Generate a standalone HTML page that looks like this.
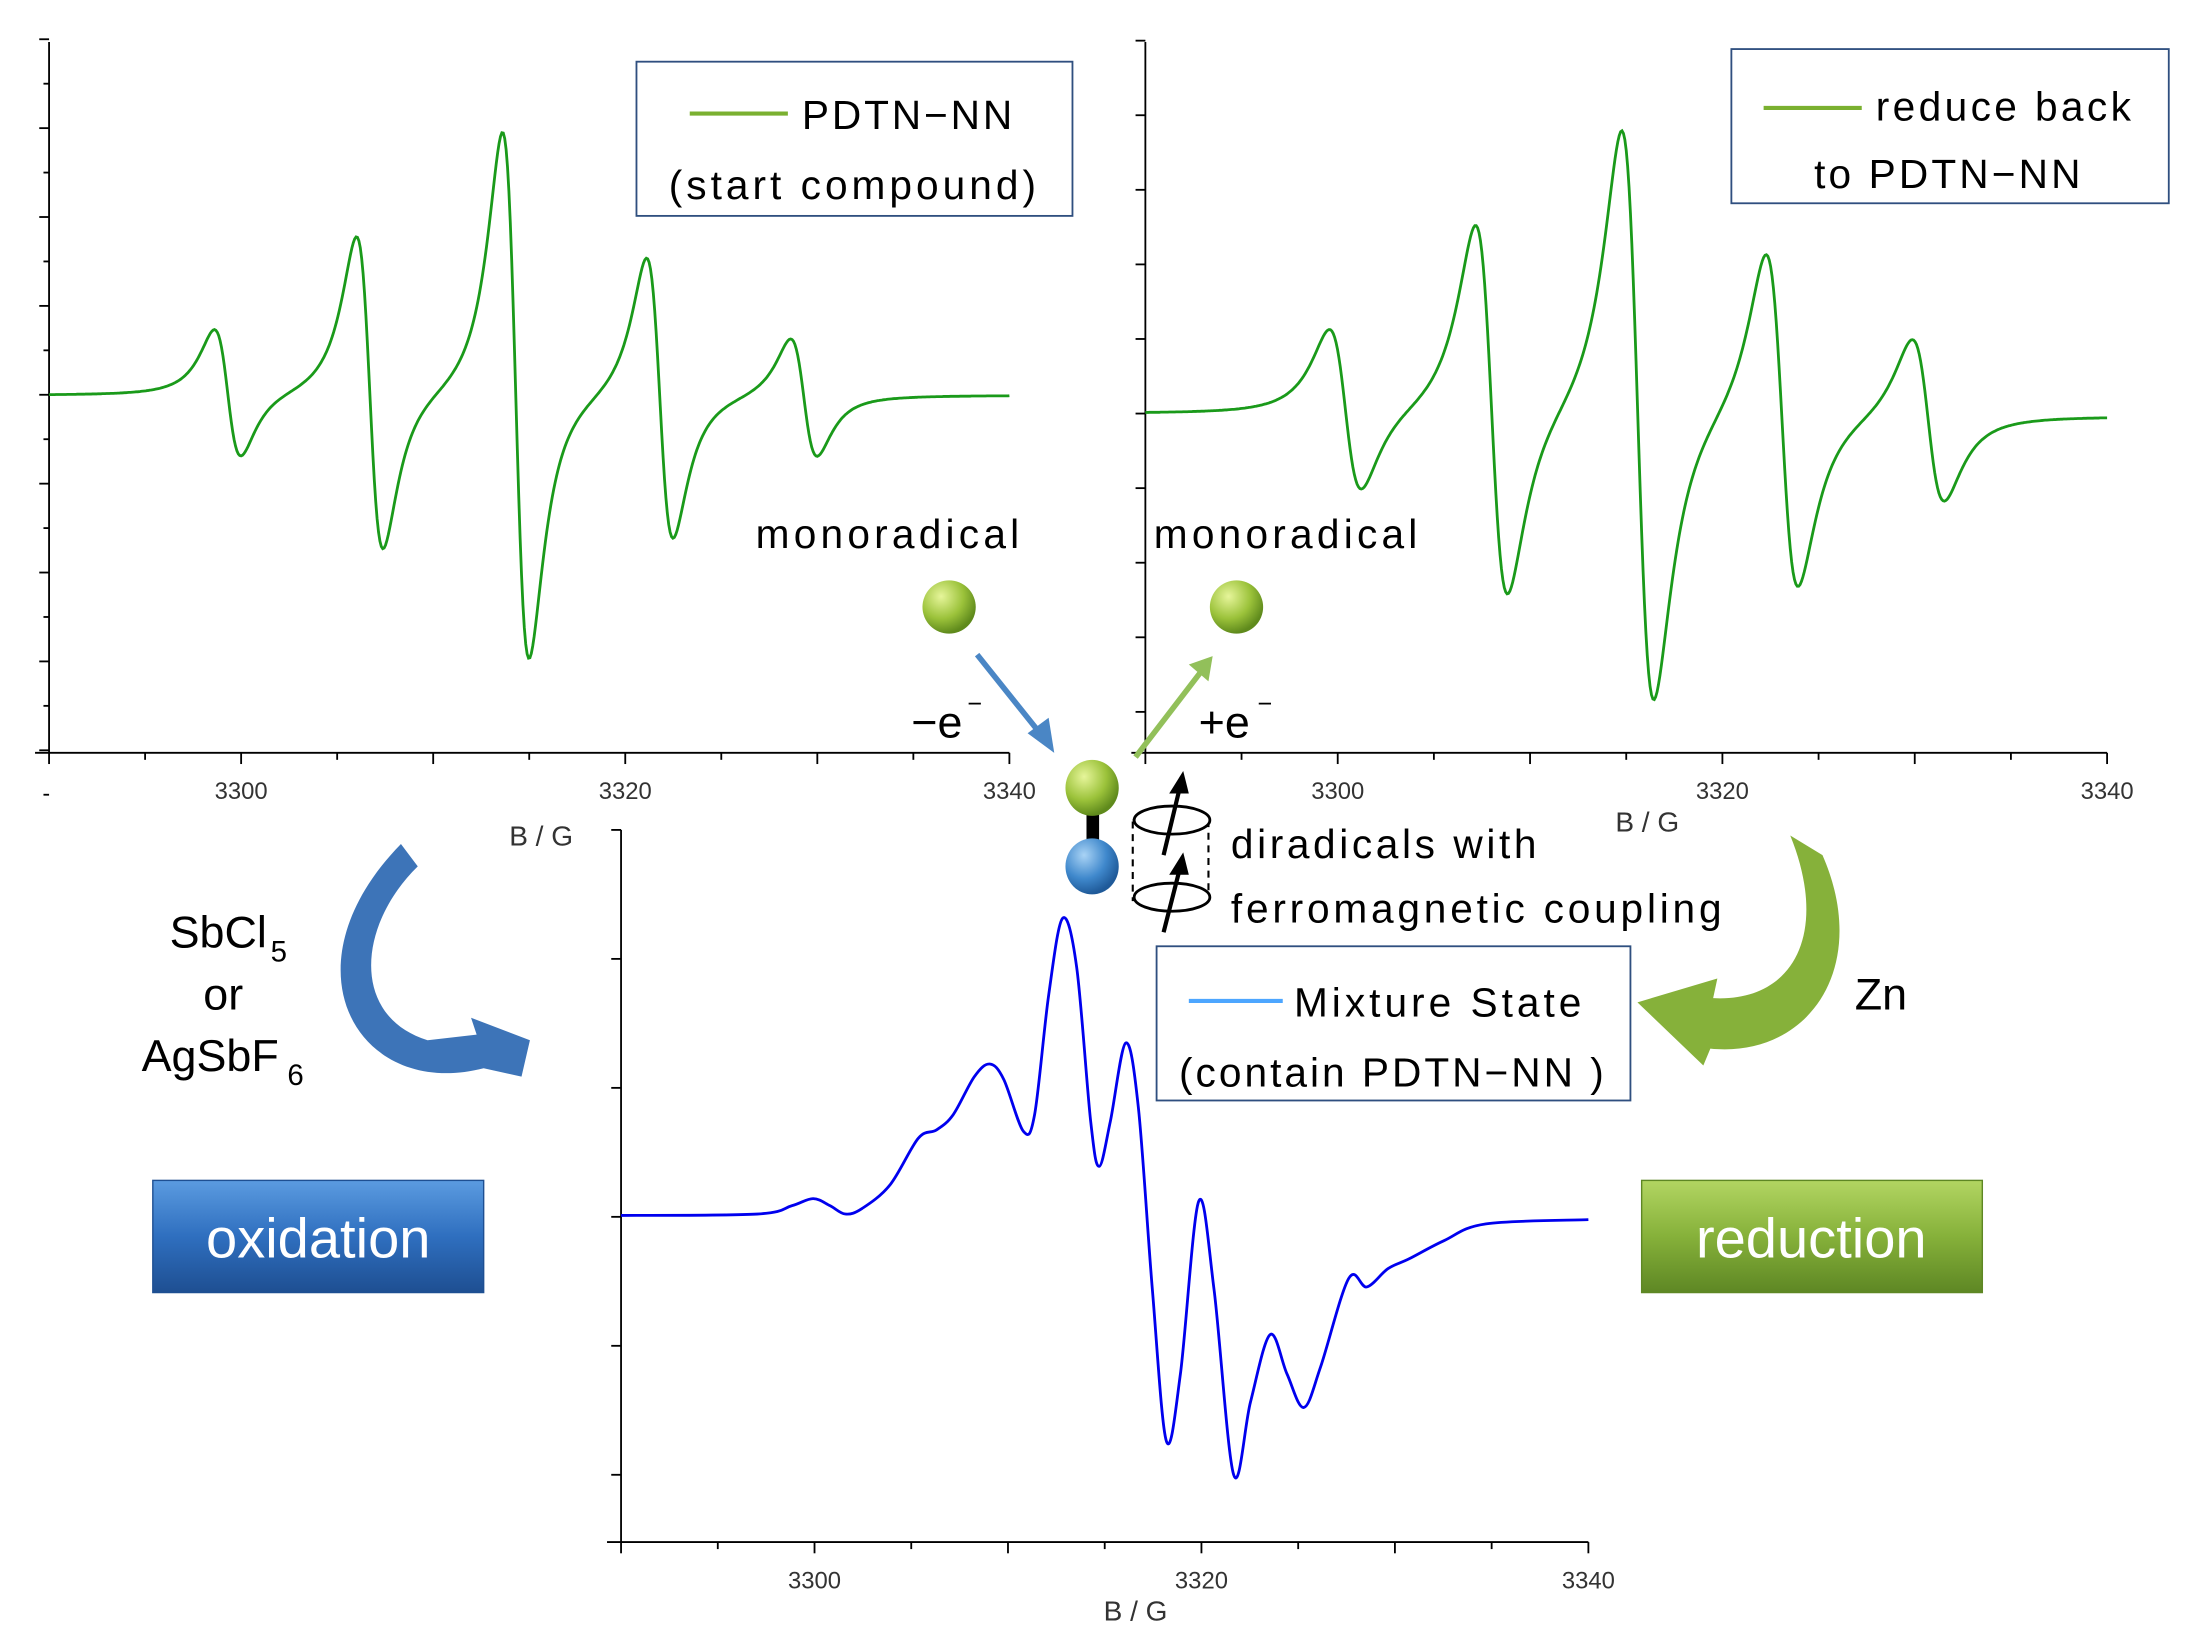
<!DOCTYPE html>
<html><head><meta charset="utf-8"><style>
html,body{margin:0;padding:0;background:#fff;width:2187px;height:1644px;overflow:hidden}
svg{display:block}
text{font-family:"Liberation Sans",sans-serif}
</style></head><body>
<svg id="s" width="2187" height="1644" viewBox="0 0 1560 1172.7" preserveAspectRatio="none" xmlns="http://www.w3.org/2000/svg">
<defs>
<radialGradient id="gb" cx="0.35" cy="0.3" r="0.7"><stop offset="0" stop-color="#e6f59a"/><stop offset="0.6" stop-color="#9bc23a"/><stop offset="1" stop-color="#5f8a1c"/></radialGradient>
<radialGradient id="bb" cx="0.35" cy="0.3" r="0.7"><stop offset="0" stop-color="#a9d3f5"/><stop offset="0.6" stop-color="#3f88cc"/><stop offset="1" stop-color="#1f5a99"/></radialGradient>
<linearGradient id="ox" x1="0" y1="0" x2="0" y2="1"><stop offset="0" stop-color="#5b9be0"/><stop offset="0.5" stop-color="#2f6fbf"/><stop offset="1" stop-color="#1e4f92"/></linearGradient>
<linearGradient id="rd" x1="0" y1="0" x2="0" y2="1"><stop offset="0" stop-color="#b2d562"/><stop offset="0.5" stop-color="#86b13a"/><stop offset="1" stop-color="#5e8724"/></linearGradient>
</defs>
<g id="axes" stroke="#000" stroke-width="1.3" fill="none"></g>
<g id="curves" fill="none"></g>

<rect x="454" y="44" width="311" height="110" fill="#fff" stroke="#2f4f7f" stroke-width="1.3"/>
<line x1="492" y1="81" x2="562" y2="81" stroke="#7ab030" stroke-width="3"/>
<text x="572" y="92" font-size="29" textLength="150">PDTN−NN</text>
<text x="477" y="142" font-size="29" textLength="262">(start compound)</text>
<rect x="1235" y="35" width="312" height="110" fill="#fff" stroke="#2f4f7f" stroke-width="1.3"/>
<line x1="1258" y1="77" x2="1328" y2="77" stroke="#7ab030" stroke-width="3"/>
<text x="1338" y="86" font-size="29" textLength="182">reduce back</text>
<text x="1294" y="134" font-size="29" textLength="190">to PDTN−NN</text>
<rect x="825" y="675" width="338" height="110" fill="#fff" stroke="#2f4f7f" stroke-width="1.3"/>
<line x1="848" y1="714" x2="915" y2="714" stroke="#4da6ff" stroke-width="3"/>
<text x="923" y="725" font-size="29" textLength="205">Mixture State</text>
<text x="841" y="775" font-size="29" textLength="303">(contain PDTN−NN )</text>

<text x="539" y="391" font-size="29" textLength="188">monoradical</text>
<text x="823" y="391" font-size="29" textLength="188">monoradical</text>
<circle cx="677" cy="433" r="19" fill="url(#gb)"/>
<circle cx="882" cy="433" r="19" fill="url(#gb)"/>
<line x1="697" y1="467" x2="745" y2="527" stroke="#4a86c5" stroke-width="4"/>
<polygon points="752,537 733,523 748,512" fill="#4a86c5"/>
<line x1="810" y1="540" x2="856" y2="480" stroke="#92c05a" stroke-width="4"/>
<polygon points="865,468 848,474 862,486" fill="#92c05a"/>
<text x="650" y="526" font-size="32">−e</text><text x="690" y="508" font-size="18">−</text>
<text x="855" y="526" font-size="32">+e</text><text x="897" y="508" font-size="18">−</text>
<rect x="775" y="575" width="9" height="35" fill="#000"/>
<ellipse cx="779" cy="562" rx="19" ry="20" fill="url(#gb)"/>
<ellipse cx="779" cy="618" rx="19" ry="20" fill="url(#bb)"/>
<rect x="808" y="585" width="54" height="57" fill="none" stroke="#000" stroke-width="1.5" stroke-dasharray="5,4"/>
<ellipse cx="836" cy="585" rx="27" ry="10" fill="#fff" stroke="#000" stroke-width="2"/>
<ellipse cx="836" cy="640" rx="27" ry="10" fill="#fff" stroke="#000" stroke-width="2"/>
<line x1="830" y1="610" x2="842" y2="560" stroke="#000" stroke-width="3"/><polygon points="844,550 834,566 848,566" fill="#000"/>
<line x1="830" y1="665" x2="842" y2="618" stroke="#000" stroke-width="3"/><polygon points="844,608 834,624 848,624" fill="#000"/>
<text x="878" y="612" font-size="29" textLength="218">diradicals with</text>
<text x="878" y="658" font-size="29" textLength="350">ferromagnetic coupling</text>

<text x="121" y="676" font-size="32">SbCl</text><text x="193" y="686" font-size="21">5</text>
<text x="145" y="720" font-size="32">or</text>
<text x="101" y="764" font-size="32">AgSbF</text><text x="205" y="774" font-size="21">6</text>
<text x="1323" y="720" font-size="32">Zn</text>

<path d="M286,602 L298,618 C255,660 250,725 305,742 L340,738 L336,726 L378,742 L372,768 L345,762 C255,785 200,690 286,602 Z" fill="#3d74b8"/>
<path d="M1277,596 L1300,610 C1335,690 1290,755 1220,748 L1215,760 L1168,715 L1225,698 L1222,712 C1280,715 1305,665 1277,596 Z" fill="#86b13a"/>

<rect x="109" y="842" width="236" height="80" fill="url(#ox)" stroke="#1e4f92"/>
<text x="227" y="897" font-size="40" fill="#fff" text-anchor="middle">oxidation</text>
<rect x="1171" y="842" width="243" height="80" fill="url(#rd)" stroke="#5e8724"/>
<text x="1292" y="897" font-size="40" fill="#fff" text-anchor="middle">reduction</text>
</svg>
<script>
var NS="http://www.w3.org/2000/svg",ax=document.getElementById('axes'),cv=document.getElementById('curves'),s=document.getElementById('s');
function L(x1,y1,x2,y2){var l=document.createElementNS(NS,'line');l.setAttribute('x1',x1);l.setAttribute('y1',y1);l.setAttribute('x2',x2);l.setAttribute('y2',y2);ax.appendChild(l);}
function T(x,y,t,fs,a){var e=document.createElementNS(NS,'text');e.setAttribute('x',x);e.setAttribute('y',y);e.setAttribute('font-size',fs||17);e.setAttribute('text-anchor',a||'middle');e.setAttribute('fill','#333');e.textContent=t;s.appendChild(e);}
function frame(x0,x1,yb,yt,ticksY,minorY,ly){
 L(x0,yt,x0,yb);L(x0-10,yb,x1,yb);
 var px=(x1-x0)/50;
 for(var g=0;g<=50;g+=5){var x=x0+g*px;L(x,yb,x,yb+(g%10==0?8:5));}
 [10,30,50].forEach(function(g){T(x0+g*px,ly,String(3290+g));});
 ticksY.forEach(function(y){L(x0-7,y,x0,y);});
 (minorY||[]).forEach(function(y){L(x0-4,y,x0,y);});
}
var tl=[],tm=[];for(var y=28;y<=537;y+=63.4){tl.push(y);tm.push(y+31.7);}
frame(35,720,537,30,tl,tm,570);
var tr=[];for(var y=29;y<=537;y+=53.2)tr.push(y);
frame(817,1503,537,30,tr,[],570);
var bt=[];for(var y=592;y<1100;y+=92)bt.push(y);
frame(443,1133,1100,592,bt,[],1133);
T(1175,593,'B / G',20);T(810,1156,'B / G',20);T(386,603,'B / G',20);
function der(G,c,w,A){var u=(G-c)/w;return -A*u/Math.pow(1+u*u,2);}
function spec(x0,x1,yb0,yb1,lines,w,col){
 var d='',px=(x1-x0)/50,n=0;
 for(var x=x0;x<=x1;x+=1){var G=3290+(x-x0)/px,v=0;lines.forEach(function(l){v+=der(G,l[0],w,l[1]);});
  var yb=yb0+(yb1-yb0)*(x-x0)/(x1-x0);d+=(n++?'L':'M')+x+','+(yb-v).toFixed(1);}
 var p=document.createElementNS(NS,'path');p.setAttribute('d',d);p.setAttribute('stroke',col);p.setAttribute('stroke-width','2');cv.appendChild(p);
}
spec(35,720,282,282,[[3299.3,140],[3306.7,345],[3314.3,580],[3321.8,310],[3329.3,130]],1.2,'#1a9a1a');
spec(817,1503,295,297,[[3300.4,178],[3308,410],[3315.6,630],[3323.1,370],[3330.7,180]],1.45,'#1a9a1a');
var P=[[443,867],[540,866],[565,860],[580,855],[592,860],[603,866],[615,862],[635,845],[655,812],[668,806],[680,795],[695,768],[706,759],[716,770],[730,807],[738,795],[748,710],[758,655],[768,690],[778,800],[784,832],[792,800],[803,744],[812,790],[822,920],[832,1028],[842,980],[855,857],[866,920],[880,1052],[892,1000],[906,952],[918,980],[930,1004],[942,975],[962,912],[975,918],[990,905],[1005,898],[1030,885],[1060,873],[1133,870]];
var d='M'+P[0];
for(var i=0;i<P.length-1;i++){var p0=P[i-1]||P[i],p1=P[i],p2=P[i+1],p3=P[i+2]||p2;
 d+='C'+(p1[0]+(p2[0]-p0[0])/6)+','+(p1[1]+(p2[1]-p0[1])/6)+' '+(p2[0]-(p3[0]-p1[0])/6)+','+(p2[1]-(p3[1]-p1[1])/6)+' '+p2[0]+','+p2[1];}
var p=document.createElementNS(NS,'path');p.setAttribute('d',d);p.setAttribute('stroke','#0000ee');p.setAttribute('stroke-width','2');cv.appendChild(p);
</script>
</body></html>
